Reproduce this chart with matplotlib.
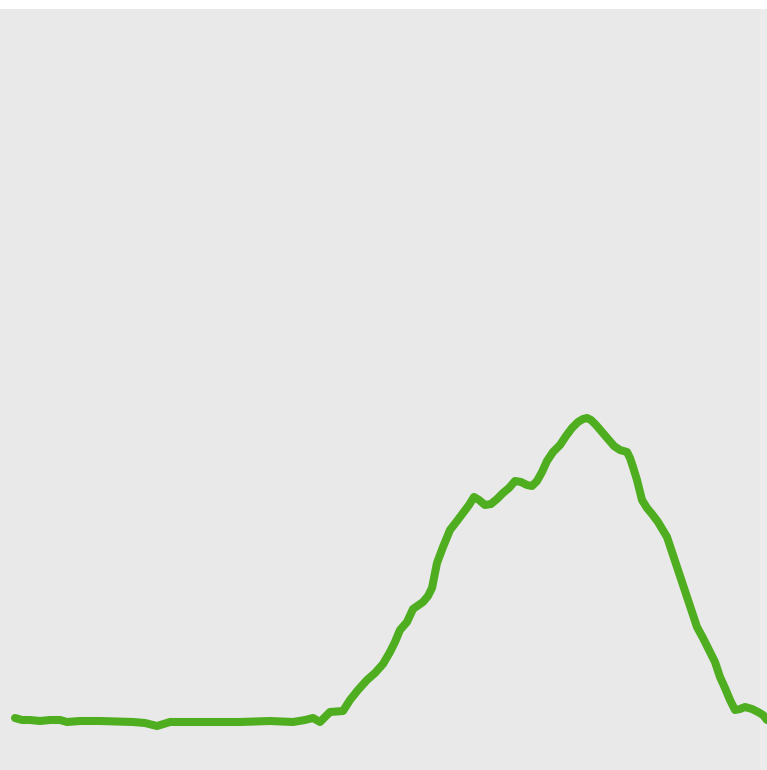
import numpy as np
import matplotlib
matplotlib.use('Agg')
import matplotlib.pyplot as plt

# series (x position, value)
x = [15, 22, 30, 40, 50, 60, 67, 80, 100, 133, 145, 157, 170, 200, 240, 270, 293,
     305, 313, 320, 330, 343, 350, 358, 367, 375, 383, 390, 395, 400, 407, 413, 423,
     428, 432, 437, 443, 450, 457, 463, 469, 474, 479, 485, 491, 497, 503, 509, 515,
     521, 527, 532, 537, 542, 547, 553, 560, 566, 572, 578, 583, 587, 591, 596, 602,
     608, 614, 620, 627, 630, 633, 637, 642, 647, 652, 658, 667, 672, 677, 682, 687,
     692, 697, 703, 709, 715, 720, 725, 730, 735, 740, 745, 752, 758, 763, 767]
y = [52, 50, 50, 49, 50, 50, 48, 49, 49, 48, 47, 44, 48, 48, 48, 49, 48,
     50, 52, 48, 58, 59, 70, 80, 90, 97, 106, 118, 128, 140, 148, 161, 168,
     174, 182, 207, 223, 240, 249, 257, 265, 273, 270, 265, 266, 271, 277, 282, 289,
     288, 285, 284, 289, 298, 309, 318, 325, 334, 342, 348, 351, 352, 350, 345, 338,
     331, 324, 320, 318, 312, 303, 290, 270, 262, 256, 248, 233, 218, 203, 188, 173,
     158, 143, 132, 120, 108, 93, 82, 70, 60, 61, 63, 61, 58, 55, 50]

fig = plt.figure(figsize=(7.67, 7.70), dpi=100)
ax = fig.add_axes([0, 0, 1, 761 / 770])
ax.set_facecolor('#e9e9e9')
ax.axvspan(760, 767, color='#ececec', lw=0)
ax.plot(x, y, color='#4fad20', lw=5.8, solid_capstyle='round', solid_joinstyle='round')
ax.set_xlim(0, 767)
ax.set_ylim(0, 761)
ax.set_xticks([])
ax.set_yticks([])
for s in ax.spines.values():
    s.set_visible(False)

fig.savefig('out.png', dpi=100, facecolor='white')
